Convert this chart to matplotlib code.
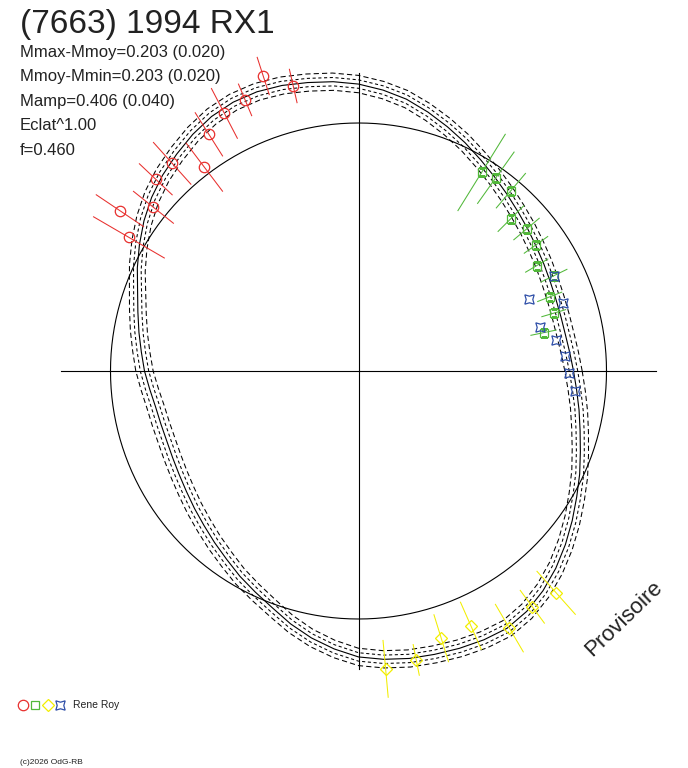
"""Polar lightcurve plot of (7663) 1994 RX1."""

import numpy as np
import matplotlib
matplotlib.use("Agg")
import matplotlib.pyplot as plt
from matplotlib.lines import Line2D

plt.rcParams["font.family"] = ["Liberation Sans", "DejaVu Sans"]

# fitted lightcurve, radius (reference circle = 1) every 5 degrees of phase
curve_deg = list(range(0, 360, 5))
curve_r = [0.867, 0.855, 0.847, 0.845, 0.847, 0.853, 0.863, 0.875, 0.891, 0.909,
           0.931, 0.956, 0.984, 1.016, 1.048, 1.081, 1.113, 1.137, 1.157, 1.171,
           1.181, 1.192, 1.198, 1.196, 1.185, 1.165, 1.141, 1.117, 1.089, 1.056,
           1.020, 0.984, 0.948, 0.921, 0.899, 0.879, 0.863, 0.845, 0.831, 0.825,
           0.823, 0.827, 0.835, 0.847, 0.863, 0.881, 0.903, 0.927, 0.956, 0.984,
           1.016, 1.056, 1.093, 1.125, 1.153, 1.167, 1.177, 1.183, 1.190, 1.196,
           1.198, 1.183, 1.157, 1.125, 1.089, 1.052, 1.016, 0.984, 0.952, 0.925,
           0.903, 0.883]
band_offsets = [-0.035, -0.017, 0.017, 0.035]

# observations: phase angle (deg), radius, half error
red_deg = [107.9, 102.9, 112.7, 117.5, 122.3, 131.9, 127.1, 136.6, 141.4, 146.1, 149.8]
red_r = [1.250, 1.179, 1.185, 1.171, 1.129, 1.125, 1.030, 1.125, 1.058, 1.159, 1.071]
red_err = [0.079, 0.069, 0.069, 0.113, 0.103, 0.113, 0.121, 0.091, 0.103, 0.115, 0.165]

green_deg = [58.2, 54.6, 49.8, 45.0, 40.2, 35.4, 30.6, 26.0, 21.2, 16.5, 11.7]
green_r = [0.942, 0.956, 0.952, 0.869, 0.887, 0.878, 0.835, 0.877, 0.827, 0.821, 0.762]
green_err = [0.181, 0.127, 0.091, 0.073, 0.067, 0.058, 0.052, 0.058, 0.052, 0.050, 0.052]

yellow_deg = [311.7, 306.4, 300.4, 293.8, 287.2, 281.3, 275.2]
yellow_r = [1.198, 1.181, 1.202, 1.123, 1.128, 1.188, 1.206]
yellow_err = [0.116, 0.082, 0.111, 0.104, 0.099, 0.063, 0.115]

blue_deg = [26.0, 23.0, 18.5, 13.7, 8.9, 4.1, 359.4, 354.7]
blue_r = [0.877, 0.747, 0.869, 0.753, 0.805, 0.836, 0.848, 0.878]

title = "(7663) 1994 RX1"
info_lines = ["Mmax-Mmoy=0.203 (0.020)", "Mmoy-Mmin=0.203 (0.020)",
              "Mamp=0.406 (0.040)", "Eclat^1.00", "f=0.460"]

RED = "#e8302e"
GREEN = "#52b83a"
YELLOW = "#f2ee00"
BLUE = "#2f4fa8"
INK = "#222222"

W, H = 688, 768
CX, CY, UNIT = 358.5, 371, 248.0
RMAX = 1.45
AXLEN = 1.2


def main() -> None:
    fig = plt.figure(figsize=(W / 100, H / 100), dpi=100)
    half = RMAX * UNIT
    ax = fig.add_axes([(CX - half) / W, (H - CY - half) / H, 2 * half / W, 2 * half / H],
                      projection="polar")
    ax.set_ylim(0, RMAX)
    ax.axis("off")

    # cross and reference circle
    for a in (0, 0.5, 1.0, 1.5):
        ax.plot([a * np.pi, a * np.pi], [0, AXLEN], color="black", lw=0.8)
    ax.plot(np.linspace(0, 2 * np.pi, 361), np.ones(361), color="black", lw=0.8)

    th = np.deg2rad(curve_deg + [curve_deg[0]])
    rr = np.array(curve_r + [curve_r[0]])
    ax.plot(th, rr, color="black", lw=0.8)
    for off in band_offsets:
        dash = (0, (5, 3)) if abs(off) > 0.02 else (0, (3, 2.5))
        ax.plot(th, rr + off, color="black", lw=0.75, linestyle=dash)

    def series(deg, r, err, color, marker, ms):
        t = np.deg2rad(deg)
        if err is not None:
            for ti, ri, ei in zip(t, r, err):
                ax.plot([ti, ti], [ri - ei, ri + ei], color=color, lw=0.75)
        ax.plot(t, r, linestyle="none", marker=marker, ms=ms, mfc="none",
                mec=color, mew=0.9)

    series(red_deg, red_r, red_err, RED, "o", 7.5)
    series(green_deg, green_r, green_err, GREEN, "s", 6)
    series(yellow_deg, yellow_r, yellow_err, YELLOW, "D", 6)
    series(blue_deg, blue_r, None, BLUE, (4, 1, 45), 9.5)

    # texts
    fig.text(20 / W, 1 - 33.3 / H, title, fontsize=24, color=INK, va="baseline")
    for i, s in enumerate(info_lines):
        fig.text(19.5 / W, 1 - (57 + 24.5 * i) / H, s, fontsize=12, color=INK,
                 va="baseline")
    fig.text(624 / W, 1 - 619 / H, "Provisoire", fontsize=16, color=INK,
             rotation=44, ha="center", va="center", rotation_mode="anchor")

    # legend row
    for x, color, marker, ms in [(22.7, RED, "o", 7.5), (35, GREEN, "s", 6),
                                 (47.7, YELLOW, "D", 6), (59.7, BLUE, (4, 1, 45), 9.5)]:
        fig.add_artist(Line2D([x / W], [1 - 705 / H], marker=marker, ms=ms, mfc="none",
                              mec=color, mew=0.9, linestyle="none",
                              transform=fig.transFigure))
    fig.text(72.7 / W, 1 - 705 / H, "Rene Roy", fontsize=7.5, color=INK, va="center")
    fig.text(20 / W, 1 - 763 / H, "(c)2026 OdG-RB", fontsize=6, color=INK, va="center")

    fig.savefig("out.png", dpi=100, facecolor="white")
    plt.close(fig)


if __name__ == "__main__":
    main()
